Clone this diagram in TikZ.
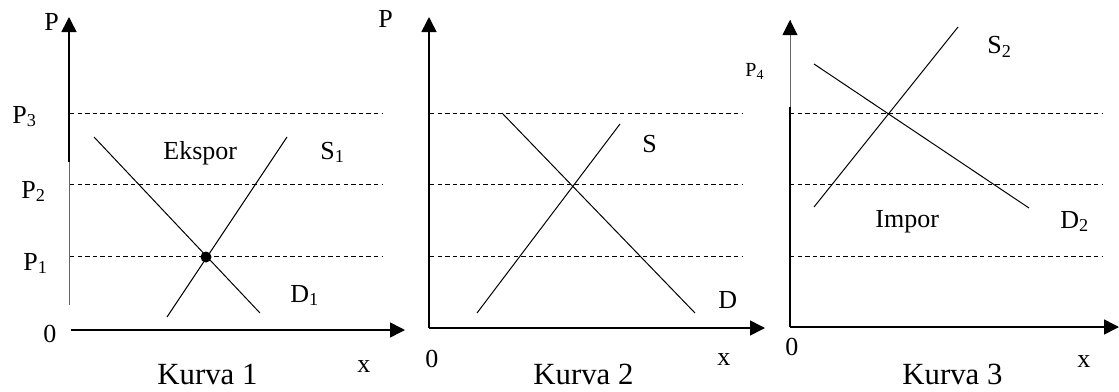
\documentclass[tikz,border=0pt]{standalone}
\usepackage{fontspec}
\setmainfont{Liberation Serif}
\usetikzlibrary{arrows.meta}

\begin{document}
\begin{tikzpicture}[
  x=0.5pt, y=-0.5pt,
  axisline/.style={draw, line width=0.8pt, -{Triangle[length=7.5pt,width=7.5pt]}},
  thinaxis/.style={draw, line width=0.45pt, gray!80!black},
  curveline/.style={draw, line width=0.5pt},
  levelline/.style={draw, line width=0.5pt, dash pattern=on 2.2pt off 1.6pt},
  eqdot/.style={circle, fill, minimum size=5.5pt, inner sep=0pt},
  lbl/.style={anchor=base west, inner sep=0pt, font=\fontsize{13}{15}\selectfont},
  smalllbl/.style={anchor=base west, inner sep=0pt, font=\fontsize{10}{12}\selectfont},
  caption/.style={anchor=base west, inner sep=0pt, font=\fontsize{15.4}{18}\selectfont}
]
  \useasboundingbox (0,0) rectangle (1119,391);

  \coordinate (yb1) at (69,305);  \coordinate (ym1) at (69,162);
  \coordinate (yt1) at (69,17);
  \coordinate (xl1) at (71,330);  \coordinate (xr1) at (405,330);
  \coordinate (o2) at (429,328);  \coordinate (yt2) at (429,17);
  \coordinate (xr2) at (765,328);
  \coordinate (o3) at (790,327);  \coordinate (ym3) at (790,107);
  \coordinate (yt3) at (790,20);
  \coordinate (xr3) at (1119,327);

  \draw[thinaxis] (yb1) -- (ym1);
  \draw[axisline] (ym1) -- (yt1);
  \draw[axisline] (xl1) -- (xr1);
  \draw[axisline] (o2) -- (yt2);
  \draw[axisline] (o2) -- (xr2);
  \draw[curveline, line width=0.8pt] (o3) -- (ym3);
  \draw[thinaxis] (ym3) -- (yt3);
  \draw[axisline, line width=0.45pt, shorten <=38pt] (ym3) -- (yt3);
  \draw[axisline] (o3) -- (xr3);

  \foreach \xa/\xb in {70/382,430/742,790/1102}
    \foreach \y in {113,184,256}
      \draw[levelline] (\xa,\y) -- (\xb,\y);

  \coordinate (d1a) at (94,137);   \coordinate (d1b) at (260,313);
  \coordinate (s1a) at (167,317);  \coordinate (s1b) at (287,137);
  \coordinate (da) at (502,113);   \coordinate (db) at (695,313);
  \coordinate (sa) at (477,313);   \coordinate (sb) at (620,124);
  \coordinate (d2a) at (814,64);   \coordinate (d2b) at (1029,208);
  \coordinate (s2a) at (814,207);  \coordinate (s2b) at (958,27);

  \draw[curveline] (d1a) -- (d1b);
  \draw[curveline] (s1a) -- (s1b);
  \draw[curveline] (da) -- (db);
  \draw[curveline] (sa) -- (sb);
  \draw[curveline] (d2a) -- (d2b);
  \draw[curveline] (s2a) -- (s2b);
  \node[eqdot] (eq1) at (206,257) {};

  \node[lbl] (pax1) at (44,30) {P};
  \node[lbl] (p3) at (12,123) {P\textsubscript{3}};
  \node[lbl] (p2) at (21,198) {P\textsubscript{2}};
  \node[lbl] (p1) at (23,270) {P\textsubscript{1}};
  \node[lbl] (zero1) at (43,342) {0};
  \node[lbl] (xax1) at (357,372) {x};
  \node[lbl] (ekspor) at (163,159) {Ekspor};
  \node[lbl] (s1lab) at (320,159) {S\textsubscript{1}};
  \node[lbl] (d1lab) at (290,302) {D\textsubscript{1}};
  \node[caption] (kurva1) at (157,384) {Kurva 1};

  \node[lbl] (pax2) at (378,27) {P};
  \node[lbl] (slab) at (642,152) {S};
  \node[lbl] (dlab) at (718,308) {D};
  \node[lbl] (zero2) at (425,367) {0};
  \node[lbl] (xax2) at (717,365) {x};
  \node[caption] (kurva2) at (533,384) {Kurva 2};

  \node[smalllbl] (p4) at (745,76) {P\textsubscript{4}};
  \node[lbl] (s2lab) at (987,54) {S\textsubscript{2}};
  \node[lbl] (impor) at (875,227) {Impor};
  \node[lbl] (d2lab) at (1060,228) {D\textsubscript{2}};
  \node[lbl] (zero3) at (785,355) {0};
  \node[lbl] (xax3) at (1077,367) {x};
  \node[caption] (kurva3) at (902,384) {Kurva 3};
\end{tikzpicture}
\end{document}
